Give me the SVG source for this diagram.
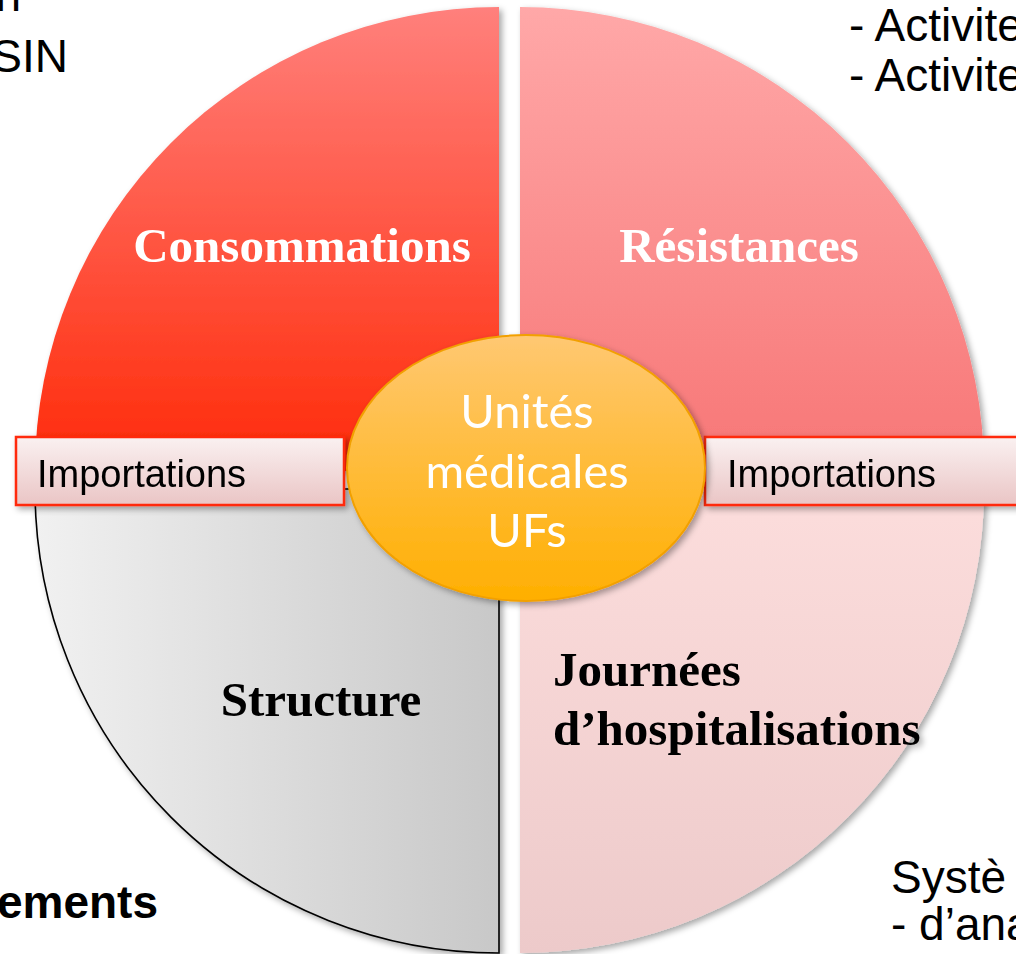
<svg xmlns="http://www.w3.org/2000/svg" width="1016" height="954" viewBox="0 0 1016 954">
  <style>
    .lbl { font-family: "Liberation Serif", "Times New Roman", serif; font-weight: bold; font-size: 49px; }
    .out { font-family: "Liberation Sans", Arial, sans-serif; font-size: 46px; fill: #000; }
    .imp { font-family: "Liberation Sans", Arial, sans-serif; font-size: 38px; fill: #000; }
    .ctr { font-family: Lato, "Open Sans", sans-serif; font-size: 47px; fill: #fff; }
    .box { fill: url(#gBox); stroke: #FF2A0A; stroke-width: 2.5; }
  </style>
  <defs>
    <linearGradient id="gTL" x1="0" y1="0" x2="0" y2="1">
      <stop offset="0" stop-color="#FF807C"/>
      <stop offset="1" stop-color="#FF2A08"/>
    </linearGradient>
    <linearGradient id="gTR" x1="0" y1="0" x2="0" y2="1">
      <stop offset="0" stop-color="#FFA8A8"/>
      <stop offset="1" stop-color="#F77676"/>
    </linearGradient>
    <linearGradient id="gBL" x1="0" y1="0" x2="1" y2="0">
      <stop offset="0" stop-color="#F1F1F1"/>
      <stop offset="1" stop-color="#C8C8C8"/>
    </linearGradient>
    <linearGradient id="gBR" x1="0" y1="0" x2="0" y2="1">
      <stop offset="0" stop-color="#FCDDDC"/>
      <stop offset="1" stop-color="#EDCACA"/>
    </linearGradient>
    <linearGradient id="gEl" x1="0" y1="0" x2="0" y2="1">
      <stop offset="0" stop-color="#FFC872"/>
      <stop offset="1" stop-color="#FFAF00"/>
    </linearGradient>
    <linearGradient id="gBox" x1="0" y1="0" x2="0" y2="1">
      <stop offset="0" stop-color="#FAF1F1"/>
      <stop offset="1" stop-color="#EAC5C5"/>
    </linearGradient>
    <filter id="sh" x="-10%" y="-10%" width="125%" height="125%">
      <feDropShadow dx="3" dy="3" stdDeviation="3" flood-color="#000" flood-opacity="0.35"/>
    </filter>
  </defs>

  <rect width="1016" height="954" fill="#fff"/>

  <!-- outside slide text -->
  <g id="outside-text">
    <text class="out" x="21" y="11" text-anchor="end">n</text>
    <text class="out" x="68" y="72" text-anchor="end">SIN</text>
    <text class="out" x="849" y="41">- Activite</text>
    <text class="out" x="849" y="91">- Activite</text>
    <text class="out" x="158" y="918" text-anchor="end" font-weight="bold">ements</text>
    <text class="out" x="891" y="893" font-size="47">Systè</text>
    <text class="out" x="891" y="940" font-size="47">- d’ana</text>
  </g>

  <g id="q-consommations" filter="url(#sh)">
    <path d="M 499 471 L 35 471 A 464 464 0 0 1 499 7 Z" fill="url(#gTL)"/>
    <text class="lbl" x="302" y="262" text-anchor="middle" fill="#fff">Consommations</text>
  </g>
  <g id="q-resistances" filter="url(#sh)">
    <path d="M 520 471 L 520 7 A 464 464 0 0 1 984 471 Z" fill="url(#gTR)"/>
    <text class="lbl" x="739" y="262" text-anchor="middle" fill="#fff">Résistances</text>
  </g>
  <g id="q-structure" filter="url(#sh)">
    <path d="M 499 489 L 499 953 A 464 464 0 0 1 35 489 Z" fill="url(#gBL)" stroke="#000" stroke-width="1.6"/>
    <text class="lbl" x="321" y="716" text-anchor="middle" fill="#000">Structure</text>
  </g>
  <g id="q-journees" filter="url(#sh)">
    <path d="M 520 489 L 984 489 A 464 464 0 0 1 520 953 Z" fill="url(#gBR)"/>
    <text class="lbl" x="553" y="686" fill="#000">Journées</text>
    <text class="lbl" x="553" y="745" fill="#000">d’hospitalisations</text>
  </g>

  <g id="connectors"></g>

  <g id="importations-left" filter="url(#sh)">
    <rect class="box" x="16" y="437" width="328" height="68"/>
    <text class="imp" x="37" y="487">Importations</text>
  </g>
  <g id="importations-right" filter="url(#sh)">
    <rect class="box" x="705" y="437" width="330" height="68"/>
    <text class="imp" x="727" y="487">Importations</text>
  </g>

  <g id="unites" filter="url(#sh)">
    <ellipse cx="526" cy="468" rx="179" ry="133" fill="url(#gEl)" stroke="#F2A000" stroke-width="2"/>
    <text class="ctr" x="527" y="428" text-anchor="middle">Unités</text>
    <text class="ctr" x="527" y="488" text-anchor="middle">médicales</text>
    <text class="ctr" x="527" y="547" text-anchor="middle">UFs</text>
  </g>
</svg>
